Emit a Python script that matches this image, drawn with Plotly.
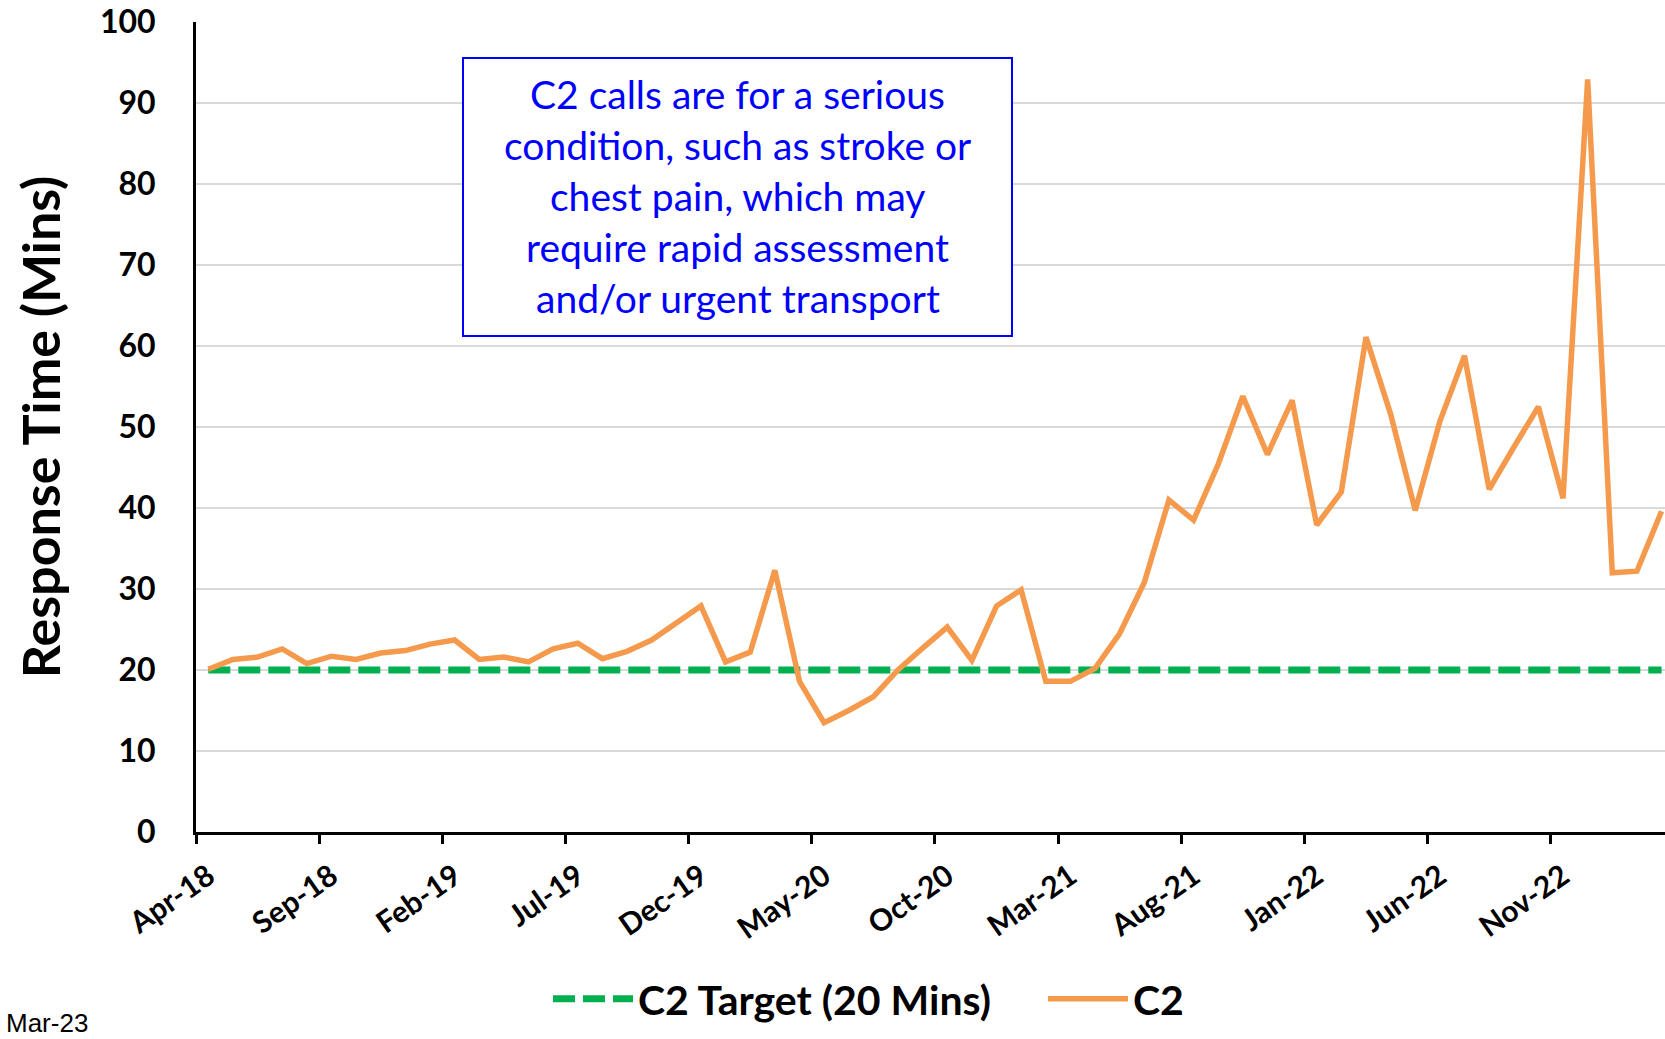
#!/usr/bin/env python

import pandas as pd
import plotly.graph_objects as go


months = list(pd.date_range('2018-04-01', periods=60, freq='MS').strftime('%b-%y'))

c2 = [20.1, 21.3, 21.6, 22.6, 20.8, 21.7, 21.3, 22.1, 22.4, 23.2,
      23.7, 21.3, 21.6, 21.0, 22.6, 23.3, 21.4, 22.3, 23.7, 25.8,
      27.9, 21.0, 22.2, 32.3, 18.6, 13.5, 15.0, 16.7, 20.0, 22.7,
      25.3, 21.2, 27.9, 29.9, 18.6, 18.6, 20.2, 24.5, 30.8, 41.0,
      38.5, 45.4, 53.8, 46.6, 53.3, 37.9, 42.0, 61.1, 51.6, 39.7,
      50.7, 58.8, 42.3, 47.5, 52.5, 41.2, 92.9, 32.0, 32.2, 39.6]
target = [20] * len(months)

note_lines = ['C2 calls are for a serious',
              'condition, such as stroke or',
              'chest pain, which may',
              'require rapid assessment',
              'and/or urgent transport']

FONT = 'Lato'

fig = go.Figure()
fig.add_trace(go.Scatter(
    x=months, y=target, mode='lines', name='C2 Target (20 Mins)',
    line=dict(color='#00B050', width=7, dash='22px,8px')))
fig.add_trace(go.Scatter(
    x=months, y=c2, mode='lines', name='C2',
    line=dict(color='#F59A4C', width=5.5)))

# plot area: x 196..right edge, y 22..832
W, H = 1469.0, 810.0
fig.update_layout(
    width=1665, height=1039,
    margin=dict(l=196, r=0, t=22, b=1039 - 832, pad=0),
    plot_bgcolor='white', paper_bgcolor='white',
    font=dict(family=FONT, color='black'),
    legend=dict(orientation='h', x=(548 - 196) / W, y=(832 - 999) / H,
                xanchor='left', yanchor='middle',
                font=dict(size=41, weight='bold'), itemwidth=80, entrywidth=400,
                bgcolor='rgba(0,0,0,0)'),
)
fig.update_xaxes(
    type='category', range=[-0.5, 59.14], tickson='boundaries', dtick=5,
    automargin=False,
    showgrid=False, showline=True, linecolor='black', linewidth=3,
    ticks='outside', ticklen=9, tickwidth=3, tickcolor='black',
    tickangle=-35, tickfont=dict(size=30, weight='bold'), ticklabelstandoff=12)
fig.update_yaxes(
    range=[0, 100], dtick=10, automargin=False,
    showgrid=True, gridcolor='#D9D9D9', gridwidth=1.5,
    zeroline=False, showline=True, linecolor='black', linewidth=3,
    ticks='', tickfont=dict(size=32, weight='bold'), ticklabelstandoff=31,
    ticklabeloverflow='allow',
    title=dict(text='Response Time (Mins)', font=dict(size=52, weight='bold'), standoff=23))

# note box
px0, py0, px1, py1 = 463, 58, 1012, 336
fig.add_shape(type='rect', xref='paper', yref='paper',
              x0=(px0 - 196) / W, x1=(px1 - 196) / W,
              y0=(832 - py1) / H, y1=(832 - py0) / H,
              line=dict(color='#0000FF', width=2), fillcolor='white', layer='above')
for k, line in enumerate(note_lines):
    fig.add_annotation(xref='paper', yref='paper',
                       x=((px0 + px1) / 2 - 196) / W, y=(832 - (94 + 51 * k)) / H,
                       text=line, showarrow=False, xanchor='center', yanchor='middle',
                       font=dict(size=39, color='#0000FF'))

fig.add_annotation(xref='paper', yref='paper', x=(90 - 196) / W, y=(832 - 1023) / H,
                   text='Mar-23', showarrow=False, xanchor='right', yanchor='middle',
                   font=dict(family='Liberation Sans', size=26, color='black'))

# drop the default 8px page margin so the figure fills the window exactly
fig.write_html("out.html", config={'displayModeBar': False},
               post_script="document.body.style.margin = '0';")
